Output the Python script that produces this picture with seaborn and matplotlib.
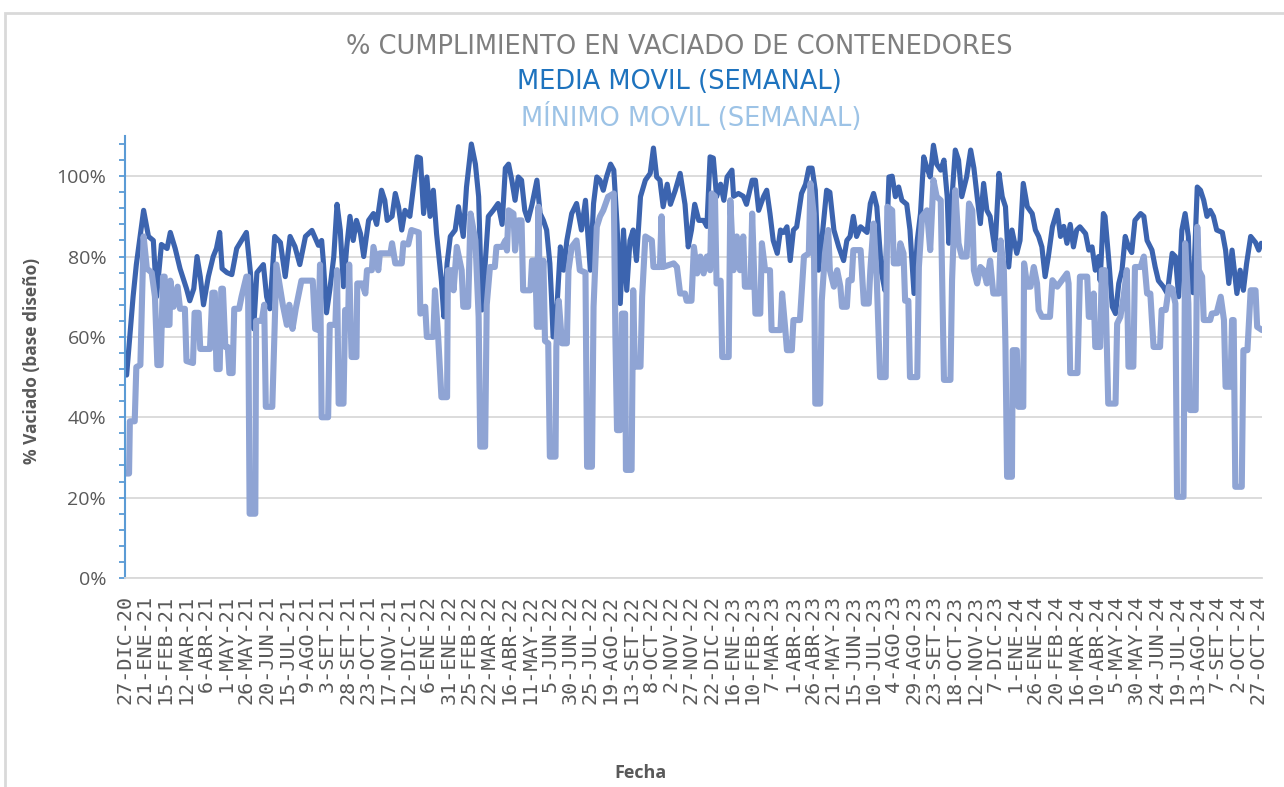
import pandas as pd
import matplotlib.pyplot as plt
import matplotlib.ticker as mtick
from matplotlib.patches import Rectangle
import seaborn as sns

INICIO = pd.Timestamp("2020-12-27")
MESES = ["ENE", "FEB", "MAR", "ABR", "MAY", "JUN", "JUL", "AGO", "SET", "OCT", "NOV", "DIC"]

# media movil semanal (dias desde el 27-DIC-20, % vaciado)
MEDIA_DIAS = [
    0, 2, 10, 14, 23, 29, 35, 39, 45, 52, 56, 62, 68, 76, 80, 85, 89, 93, 97, 103,
    109, 113, 117, 120, 126, 132, 138, 144, 150, 155, 159, 163, 171, 175, 179, 185, 192, 198, 204, 210,
    216, 223, 231, 239, 243, 245, 249, 253, 258, 262, 266, 270, 274, 278, 282, 286, 291, 295, 301, 307,
    311, 317, 321, 324, 330, 334, 338, 342, 346, 352, 356, 361, 365, 369, 373, 377, 381, 385, 391, 394,
    398, 402, 408, 412, 418, 422, 428, 433, 437, 441, 445, 449, 455, 461, 466, 470, 474, 478, 482, 486,
    490, 494, 498, 503, 509, 513, 517, 521, 525, 527, 529, 534, 538, 542, 546, 552, 558, 564, 569, 575,
    579, 583, 587, 591, 595, 600, 604, 608, 612, 616, 620, 624, 628, 632, 637, 643, 649, 653, 657, 661,
    665, 670, 674, 680, 686, 692, 696, 700, 704, 709, 715, 719, 723, 727, 731, 736, 740, 744, 750, 752,
    758, 764, 768, 775, 779, 783, 789, 793, 797, 801, 806, 810, 814, 818, 822, 826, 830, 836, 841, 845,
    849, 853, 857, 861, 867, 871, 876, 882, 888, 892, 896, 900, 904, 909, 917, 921, 925, 929, 935, 939,
    944, 948, 952, 956, 960, 966, 970, 975, 979, 983, 987, 991, 995, 999, 1003, 1008, 1012, 1016, 1018, 1022,
    1026, 1030, 1034, 1040, 1045, 1049, 1053, 1057, 1061, 1065, 1069, 1075, 1080, 1084, 1088, 1092, 1096, 1102, 1106, 1110,
    1115, 1121, 1125, 1129, 1133, 1137, 1141, 1146, 1152, 1156, 1160, 1164, 1168, 1172, 1176, 1180, 1187, 1191, 1195, 1199,
    1203, 1205, 1209, 1211, 1216, 1220, 1224, 1228, 1232, 1236, 1240, 1244, 1248, 1255, 1259, 1263, 1269, 1273, 1277, 1283,
    1288, 1294, 1298, 1302, 1306, 1310, 1314, 1316, 1320, 1325, 1329, 1333, 1337, 1341, 1345, 1349, 1356, 1360, 1364, 1368,
    1370, 1374, 1378, 1382, 1386, 1391, 1397, 1401, 1404,
]
MEDIA_VALS = [
    51, 50.5, 70, 78, 91.5, 85, 84, 70, 83, 82, 86, 82, 77, 72, 69, 72, 80, 75, 68, 75,
    80, 82, 86, 77, 76, 75.5, 82, 84, 86, 76, 62, 76, 78, 70, 67, 85, 83.5, 75, 85, 82.5,
    78, 85, 86.5, 82.8, 84, 79, 66, 71.6, 80, 93, 86.6, 72.5, 82.4, 90, 84, 89, 85.7, 80, 89, 90.7,
    88, 96.5, 94, 89, 90, 95.7, 92.4, 86.6, 91.5, 90, 96.5, 104.8, 104.5, 90.7, 99.8, 90, 96.5, 85.7, 74, 65,
    78.3, 85, 86.6, 92.4, 85, 97.3, 108, 103, 94.9, 66.7, 78, 90, 91.5, 93.2, 88, 102, 103, 99, 94, 99.8,
    99, 91.5, 89, 93, 99, 90.7, 89, 86.6, 78.3, 70, 60, 68.3, 82.4, 76.6, 84, 90.7, 93.2, 86.6, 94, 76.6,
    93.2, 99.8, 99, 96.5, 99.8, 103, 101.5, 88, 68.3, 86.6, 71.6, 84, 86.6, 79, 94.9, 99, 100.7, 107, 99.8, 99,
    92.4, 98, 93, 96.5, 100.7, 93, 82.4, 86.6, 93, 89, 89, 87.5, 104.8, 104.5, 94.9, 98, 94, 99.8, 101.5, 95,
    95.7, 95, 93, 99, 99, 91.5, 94.9, 96.5, 90.7, 84, 80.8, 86.6, 86, 87.4, 79, 86.6, 87.4, 95.7, 98, 102,
    102, 96.5, 76.6, 84, 96.5, 96, 86.6, 82.4, 79, 84, 85, 90, 85, 87.4, 86, 93.2, 95.7, 92.4, 75.8, 71.6,
    99.8, 100, 94.9, 97.3, 94, 93, 86.6, 70.8, 84, 90.7, 104.8, 102, 99.8, 107.7, 103, 101.5, 104, 94.9, 83.3, 94.9,
    106.5, 104, 94.9, 99.8, 106.5, 102, 94.9, 88.2, 98.2, 91.5, 90, 81.6, 100.7, 94.9, 92.4, 77.4, 86.6, 80.8, 84, 98.2,
    92.4, 90.7, 86.6, 85, 82.4, 75, 80, 87.4, 91.5, 85, 87.5, 83.3, 88, 82.4, 86.6, 87.4, 85.7, 81.6, 82.4, 76.6,
    80, 74, 90.7, 90, 78.3, 67.5, 65.8, 73.3, 76.6, 85, 82.4, 81, 89, 90.7, 90, 84, 81.6, 77.4, 74, 72.5,
    70.8, 80.8, 80, 70, 86.6, 90.7, 85, 71.6, 71, 97.3, 96.5, 94, 90, 91.5, 90, 86.6, 86, 81.6, 73.3, 81.6,
    78, 70.8, 76.6, 71.6, 78.3, 85, 83.5, 81.6, 83.3,
]

# minimo movil semanal
MINIMO_DIAS = [
    0, 5, 6, 12, 14, 19, 23, 27, 33, 37, 40, 44, 47, 49, 51, 55, 56, 60, 65, 68,
    74, 76, 84, 86, 91, 93, 105, 108, 111, 113, 117, 119, 121, 124, 127, 129, 133, 135, 141, 144,
    150, 152, 154, 161, 162, 169, 172, 174, 182, 185, 187, 195, 200, 203, 207, 211, 218, 232, 235, 239,
    241, 243, 251, 253, 260, 262, 264, 270, 272, 276, 277, 280, 286, 287, 293, 297, 299, 305, 307, 313,
    315, 328, 330, 334, 342, 344, 350, 354, 363, 365, 371, 373, 381, 383, 387, 391, 398, 399, 404, 406,
    410, 416, 418, 424, 427, 433, 437, 439, 445, 447, 451, 457, 459, 466, 470, 472, 474, 480, 482, 486,
    490, 492, 501, 503, 507, 509, 511, 513, 517, 519, 523, 525, 532, 533, 536, 540, 546, 548, 552, 558,
    562, 569, 571, 577, 579, 583, 587, 591, 597, 604, 606, 608, 612, 614, 618, 619, 626, 628, 630, 637,
    639, 643, 651, 653, 661, 663, 665, 678, 682, 686, 692, 694, 700, 703, 707, 711, 715, 719, 723, 725,
    729, 731, 736, 738, 746, 748, 752, 756, 760, 764, 766, 773, 775, 779, 785, 787, 791, 797, 799, 810,
    812, 816, 818, 824, 826, 834, 839, 845, 847, 851, 853, 859, 861, 865, 869, 871, 876, 880, 884, 886,
    892, 894, 898, 900, 909, 913, 919, 921, 925, 929, 933, 940, 942, 948, 950, 956, 958, 962, 964, 968,
    970, 979, 981, 985, 991, 995, 999, 1003, 1008, 1012, 1020, 1022, 1026, 1030, 1034, 1040, 1043, 1047, 1049, 1053,
    1057, 1061, 1065, 1069, 1073, 1080, 1082, 1086, 1088, 1090, 1096, 1097, 1102, 1104, 1110, 1111, 1115, 1119, 1123, 1127,
    1129, 1133, 1143, 1146, 1152, 1164, 1166, 1168, 1177, 1180, 1189, 1191, 1195, 1197, 1199, 1205, 1207, 1211, 1215, 1224,
    1226, 1230, 1234, 1238, 1240, 1246, 1248, 1255, 1259, 1263, 1267, 1271, 1279, 1281, 1286, 1290, 1294, 1298, 1300, 1308,
    1310, 1314, 1316, 1323, 1325, 1327, 1331, 1333, 1341, 1343, 1349, 1354, 1358, 1360, 1366, 1368, 1370, 1372, 1380, 1382,
    1387, 1391, 1397, 1399, 1405,
]
MINIMO_VALS = [
    26, 26, 39, 39, 52.5, 53, 85, 77, 76, 70, 53, 53, 75, 75, 63, 63, 74, 67.5, 72.5, 67,
    67, 54, 53.5, 66, 66, 57, 57, 71, 71, 52, 52, 72, 72, 57.5, 57.5, 51, 51, 67, 67, 70,
    75, 75, 16, 16, 64, 64, 68, 42.6, 42.6, 63, 78, 68, 63, 68, 62, 67, 74, 74, 62, 61.7,
    78, 40, 40, 63, 63, 76.6, 43.4, 43.4, 66.7, 66.7, 78, 55, 55, 73.3, 73.3, 70.8, 76.6, 76.6, 82.4, 76.6,
    80.8, 80.8, 83.3, 78.3, 78.3, 83.3, 83, 86.6, 86, 65.8, 67.5, 60, 60, 71.6, 60, 45, 45, 76.6, 76.6, 71.6,
    82.4, 76.6, 67.5, 67.5, 90.7, 84, 65, 32.7, 32.7, 68, 77.4, 77.4, 82.4, 82.4, 84, 81.5, 91.5, 90.7, 81.5, 89,
    89, 71.6, 71.6, 79, 79, 62.5, 92.4, 62.5, 79, 59, 58.4, 30.2, 30.2, 57.5, 69, 58.4, 58.4, 76.6, 82.4, 84,
    76.6, 76, 27.7, 27.7, 67.5, 87.4, 90, 91.5, 94.9, 95.7, 60, 36.8, 36.8, 65.8, 65.8, 26.9, 26.9, 71.6, 52.6, 52.6,
    70, 85, 84, 77.4, 77.4, 90, 77.4, 78.3, 77.4, 70.8, 70.8, 69, 69, 82.4, 75.8, 80, 75.8, 80, 76.6, 95.7,
    95, 73.3, 74, 55, 55, 94, 76.6, 85, 76.6, 85, 72.5, 72.5, 90.7, 65.8, 65.8, 83.3, 76.6, 76.6, 61.7, 61.7,
    70.8, 61.7, 56.7, 56.7, 64.2, 64.2, 80, 80.8, 98.2, 90.7, 43.4, 43.4, 69, 80.8, 86.6, 76.6, 72.5, 76.6, 72.5, 67.5,
    67.5, 74.1, 74.1, 81.6, 81.6, 68.3, 68.3, 76.6, 88.2, 74, 50, 50, 92.4, 91.5, 78.3, 78.3, 83.3, 80.8, 69, 69,
    50, 50, 77.4, 90, 91.5, 81.6, 99, 94.9, 94, 49.3, 49.3, 74.1, 96.5, 83.3, 80, 80, 93.2, 91.5, 76.6, 73.3,
    77.4, 76.6, 73.3, 79, 70.8, 70.8, 84, 76.6, 57.5, 25.2, 25.2, 56.7, 56.7, 42.6, 42.6, 78.3, 72.5, 72.5, 77.4, 73.3,
    66.7, 65, 65, 74.1, 72.5, 75.8, 73.3, 51, 51, 75, 75, 65, 65, 70.8, 57.5, 57.5, 76.6, 76.6, 43.4, 43.4,
    63.3, 65, 70, 76.6, 52.6, 52.6, 77.4, 77.4, 80, 70.8, 70.8, 57.5, 57.5, 66.7, 66.7, 72.5, 72, 68.3, 20.2, 20.2,
    83.3, 68.3, 41.8, 41.8, 87.4, 76.6, 75, 64.2, 64.2, 65.8, 66, 70, 64.2, 47.6, 47.6, 64.2, 64.2, 22.7, 22.7, 56.7,
    56.7, 71.6, 71.6, 62.5, 61.7,
]

media = pd.DataFrame({"Fecha": INICIO + pd.to_timedelta(MEDIA_DIAS, unit="D"), "valor": MEDIA_VALS})
minimo = pd.DataFrame({"Fecha": INICIO + pd.to_timedelta(MINIMO_DIAS, unit="D"), "valor": MINIMO_VALS})

sns.set_style("white")
plt.rcParams["font.family"] = ["Open Sans", "DejaVu Sans"]

fig = plt.figure(figsize=(12.84, 7.87), dpi=100)
ax = fig.add_axes([125 / 1284, 1 - 578 / 787, 1137 / 1284, 442 / 787])

sns.lineplot(data=media, x="Fecha", y="valor", color="#3C64AF", lw=3.7,
             estimator=None, ax=ax, solid_joinstyle="round", solid_capstyle="round")
sns.lineplot(data=minimo, x="Fecha", y="valor", color="#8FA4D4", lw=4.4,
             estimator=None, ax=ax, solid_joinstyle="round", solid_capstyle="round")

# ejes
ax.set_ylim(0, 110)
ax.set_xlim(INICIO, INICIO + pd.Timedelta(days=1405))
ax.set_yticks(range(0, 101, 20))
ax.yaxis.set_minor_locator(mtick.FixedLocator(range(0, 110, 4)))
ax.yaxis.set_major_formatter(mtick.PercentFormatter(decimals=0))
ax.tick_params(axis="y", which="both", left=True, direction="out", length=4.5, width=1.3,
               color="#5B9BD5", labelsize=14, labelcolor="#595959", pad=9)
ax.grid(axis="y", color="#D9D9D9", lw=1.3)
ax.grid(axis="x", visible=False)

fechas_tick = [INICIO + pd.Timedelta(days=d) for d in range(0, 1401, 25)]
etiquetas = [f"{f.day}-{MESES[f.month - 1]}-{f.year % 100:02d}" for f in fechas_tick]
ax.set_xticks(fechas_tick)
ax.set_xticklabels(etiquetas, rotation=90, fontfamily="DejaVu Sans Mono",
                   fontsize=14.5, color="#595959")
ax.tick_params(axis="x", length=0, pad=12)

for s in ["top", "right"]:
    ax.spines[s].set_visible(False)
ax.spines["left"].set_color("#5B9BD5")
ax.spines["left"].set_linewidth(1.5)
ax.spines["bottom"].set_color("#D9D9D9")
ax.spines["bottom"].set_linewidth(1.3)

ax.set_xlabel("Fecha", fontsize=13, fontweight="bold", color="#595959")
ax.set_ylabel("% Vaciado (base diseño)", fontsize=12.5, fontweight="bold", color="#595959")
ax.xaxis.set_label_coords(0.453, -0.441)
ax.xaxis.label.set_va("center")
ax.yaxis.set_label_coords(-0.082, 0.49)
ax.yaxis.label.set_va("center")

# titulo
fig.text(679 / 1284, 1 - 47 / 787, "% CUMPLIMIENTO EN VACIADO DE CONTENEDORES",
         ha="center", va="center", fontsize=18.5, color="#7F7F7F", family="DejaVu Sans")
fig.text(679 / 1284, 1 - 82 / 787, "MEDIA MOVIL (SEMANAL)",
         ha="center", va="center", fontsize=18.5, color="#1E73BE", family="DejaVu Sans")
fig.text(691 / 1284, 1 - 118 / 787, "MÍNIMO MOVIL (SEMANAL)",
         ha="center", va="center", fontsize=18.5, color="#9DC3E6", family="DejaVu Sans")

# borde del grafico
fig.add_artist(Rectangle((5 / 1284, -0.1), 1.2, 1.1 - 13 / 787, transform=fig.transFigure,
                         fill=False, edgecolor="#D9D9D9", lw=2))

fig.savefig("out.png", dpi=100)
